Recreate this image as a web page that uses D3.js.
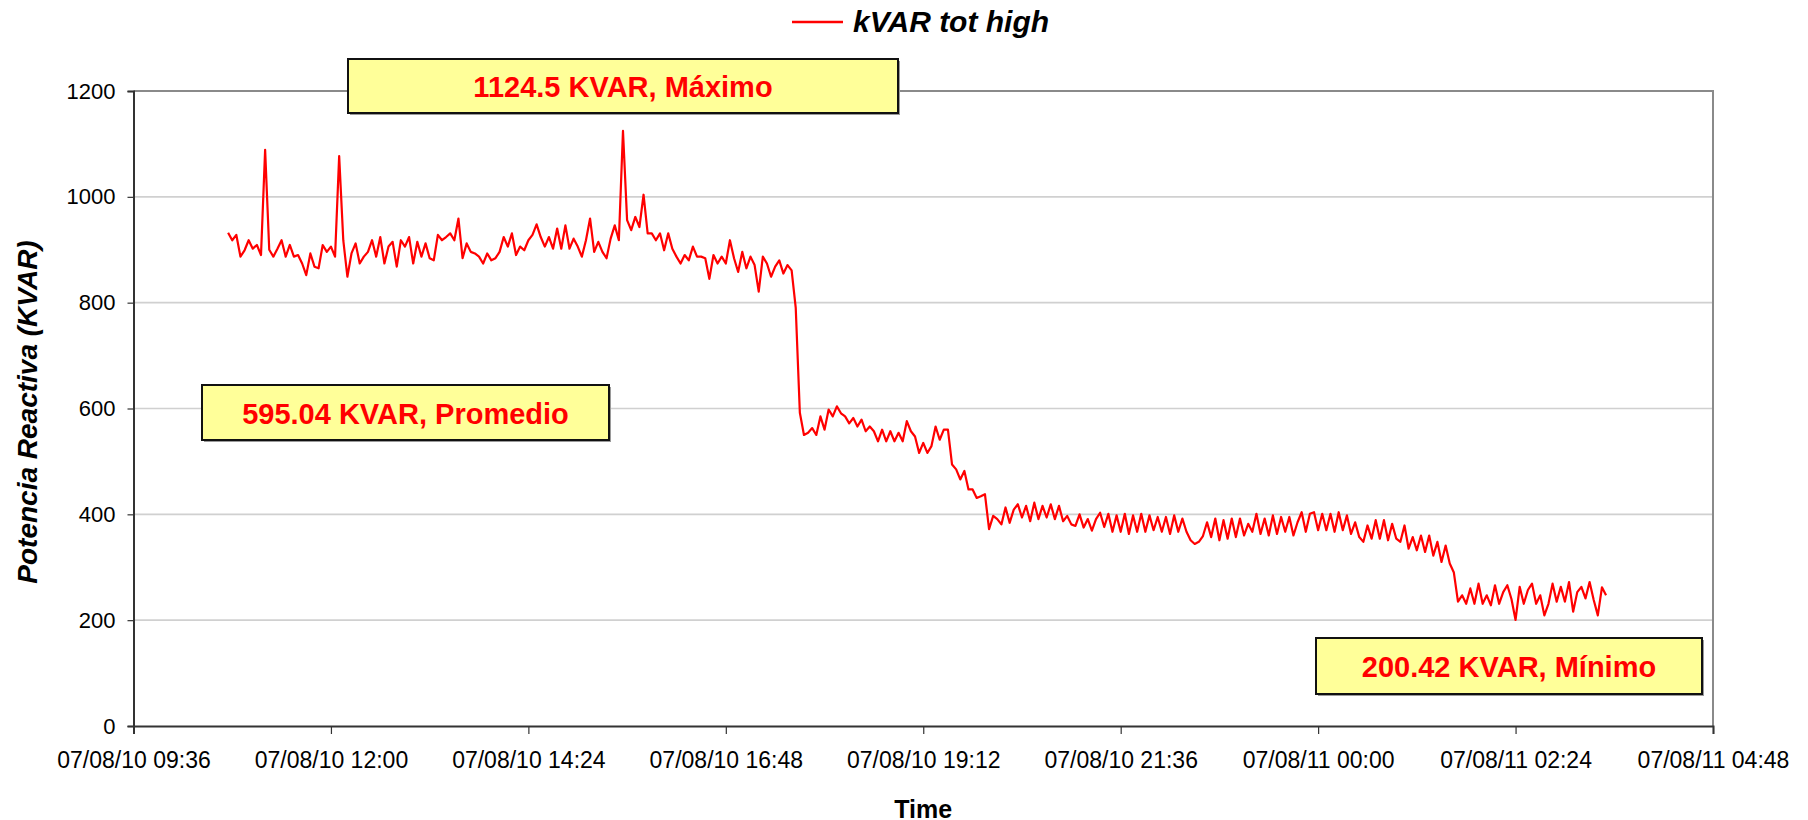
<!DOCTYPE html>
<html>
<head>
<meta charset="utf-8">
<script src="https://d3js.org/d3.v7.min.js"></script>
<title>kVAR tot high</title>
<style>
  body { margin: 0; background: #fff; }
  svg text { font-family: "Liberation Sans", Arial, sans-serif; fill: #000; }
  .tick text { font-size: 22px; }
  .x-axis .tick text { font-size: 23px; }
  .axis-title { font-weight: bold; }
  .note text { font-weight: bold; font-size: 29px; fill: #ff0000; }
</style>
</head>
<body>
<svg width="1808" height="820"></svg>
<script>
// series: one reading every 3 minutes, first one at 10:45
const seriesName = 'kVAR tot high';
const startTime = '07/08/10 10:45';
const stepMinutes = 3;
const kvar = [
  932, 918, 928, 887, 899, 918, 902, 909, 890, 1089,
  900, 887, 902, 918, 887, 909, 887, 890, 874, 852,
  893, 868, 865, 909, 896, 906, 887, 1077, 918, 849,
  893, 912, 874, 887, 896, 918, 887, 924, 874, 906,
  915, 868, 918, 906, 924, 874, 915, 887, 912, 884,
  880, 928, 918, 924, 931, 918, 959, 884, 912, 896,
  893, 887, 874, 893, 880, 884, 896, 924, 906, 931,
  890, 906, 899, 918, 928, 948, 924, 906, 924, 902,
  940, 902, 946, 902, 921, 906, 887, 918, 959, 896,
  915, 896, 884, 921, 946, 918, 1124.5, 956, 937, 962,
  943, 1004, 931, 931, 918, 931, 899, 931, 902, 887,
  874, 890, 880, 906, 887, 887, 884, 845, 890, 874,
  887, 874, 918, 884, 858, 896, 865, 887, 871, 821,
  887, 874, 849, 868, 880, 855, 871, 861, 790, 592,
  550, 554, 563, 550, 585, 560, 598, 585, 604, 591,
  585, 572, 582, 566, 579, 557, 566, 557, 538, 560,
  538, 557, 538, 554, 538, 576, 557, 547, 516, 535,
  516, 529, 566, 541, 560, 560, 494, 485, 466, 482,
  447, 447, 431, 434, 438, 372, 397, 391, 381, 413,
  384, 409, 419, 394, 416, 387, 422, 391, 416, 394,
  419, 391, 416, 387, 397, 381, 378, 400, 375, 391,
  369, 391, 403, 376, 401, 367, 398, 367, 401, 363,
  398, 367, 401, 367, 398, 370, 395, 367, 395, 363,
  398, 367, 392, 367, 351, 344, 348, 359, 385, 357,
  392, 351, 389, 354, 392, 357, 392, 360, 382, 367,
  401, 363, 392, 360, 398, 363, 395, 367, 395, 360,
  385, 404, 367, 401, 404, 370, 401, 370, 401, 367,
  404, 370, 398, 363, 385, 357, 348, 379, 354, 389,
  354, 389, 351, 382, 354, 348, 379, 335, 357, 332,
  360, 329, 360, 322, 348, 310, 341, 307, 290, 235,
  247, 231, 260, 231, 269, 231, 247, 228, 266, 231,
  253, 266, 240, 200.42, 263, 231, 257, 269, 231, 247,
  209, 231, 269, 235, 263, 235, 272, 216, 253, 263,
  241, 272, 238, 209, 262, 247
];

const xTickLabels = [
  '07/08/10 09:36', '07/08/10 12:00', '07/08/10 14:24', '07/08/10 16:48',
  '07/08/10 19:12', '07/08/10 21:36', '07/08/11 00:00', '07/08/11 02:24',
  '07/08/11 04:48'
];
const yTicks = [0, 200, 400, 600, 800, 1000, 1200];
const noteTexts = ['1124.5 KVAR, Máximo', '595.04 KVAR, Promedio', '200.42 KVAR, Mínimo'];

const svg = d3.select('svg');
const margin = { left: 133.5, right: 95, top: 91, bottom: 94 };
const width = +svg.attr('width');
const height = +svg.attr('height');
const innerWidth = width - margin.left - margin.right;
const innerHeight = height - margin.top - margin.bottom;

const parseTime = d3.timeParse('%y/%m/%d %H:%M');
const formatTime = d3.timeFormat('%y/%m/%d %H:%M');
const t0 = parseTime(startTime);
const data = kvar.map((v, i) => ({ time: d3.timeMinute.offset(t0, i * stepMinutes), value: v }));
const tickDates = xTickLabels.map(parseTime);

const xScale = d3.scaleTime()
  .domain([tickDates[0], tickDates[tickDates.length - 1]])
  .range([0, innerWidth]);
const yScale = d3.scaleLinear()
  .domain([0, 1200])
  .range([innerHeight, 0]);

const g = svg.append('g')
  .attr('transform', `translate(${margin.left},${margin.top})`);

// grid
g.append('g')
  .selectAll('line').data(yTicks.filter(d => d > 0 && d < 1200))
  .enter().append('line')
    .attr('x1', 0).attr('x2', innerWidth)
    .attr('y1', d => yScale(d)).attr('y2', d => yScale(d))
    .attr('stroke', '#d0d0d0')
    .attr('stroke-width', 1.6);

// plot frame top and right
g.append('path')
  .attr('d', `M0,0H${innerWidth}V${innerHeight}`)
  .attr('fill', 'none')
  .attr('stroke', '#8a8a8a')
  .attr('stroke-width', 2);

const yAxis = d3.axisLeft(yScale)
  .tickValues(yTicks)
  .tickSize(6)
  .tickPadding(12)
  .tickFormat(d3.format('d'));
const xAxis = d3.axisBottom(xScale)
  .tickValues(tickDates)
  .tickSize(8)
  .tickPadding(18)
  .tickFormat(formatTime);

const yAxisG = g.append('g').attr('class', 'y-axis').call(yAxis);
const xAxisG = g.append('g').attr('class', 'x-axis')
  .attr('transform', `translate(0,${innerHeight})`)
  .call(xAxis);
[yAxisG, xAxisG].forEach(a => {
  a.select('.domain').attr('stroke', '#333').attr('stroke-width', 2);
  a.selectAll('.tick line').attr('stroke', '#333').attr('stroke-width', 1.2);
  a.selectAll('.tick text').attr('fill', '#000');
});

// series line
const line = d3.line()
  .x(d => xScale(d.time))
  .y(d => yScale(d.value));
g.append('path')
  .datum(data)
  .attr('d', line)
  .attr('fill', 'none')
  .attr('stroke', '#ff0000')
  .attr('stroke-width', 2.2)
  .attr('stroke-linejoin', 'round');

// annotation boxes
const noteBoxes = [
  { x: 348, y: 59, w: 550, h: 54 },
  { x: 202, y: 385, w: 407, h: 55 },
  { x: 1316, y: 638, w: 386, h: 56 }
];
const notes = svg.selectAll('g.note').data(noteTexts)
  .enter().append('g').attr('class', 'note')
    .attr('transform', (d, i) => `translate(${noteBoxes[i].x},${noteBoxes[i].y})`);
notes.append('rect')
  .attr('x', 2).attr('y', 2)
  .attr('width', (d, i) => noteBoxes[i].w).attr('height', (d, i) => noteBoxes[i].h)
  .attr('fill', '#9a9a9a');
notes.append('rect')
  .attr('width', (d, i) => noteBoxes[i].w).attr('height', (d, i) => noteBoxes[i].h)
  .attr('fill', '#ffff99')
  .attr('stroke', '#111')
  .attr('stroke-width', 2);
notes.append('text')
  .attr('x', (d, i) => noteBoxes[i].w / 2)
  .attr('y', (d, i) => noteBoxes[i].h / 2 + 11)
  .attr('text-anchor', 'middle')
  .text(d => d);

// titles
svg.append('text')
  .attr('class', 'axis-title')
  .attr('transform', 'translate(37,412) rotate(-90)')
  .attr('text-anchor', 'middle')
  .style('font-size', '28px')
  .style('font-style', 'italic')
  .text('Potencia Reactiva (KVAR)');
svg.append('text')
  .attr('class', 'axis-title')
  .attr('x', margin.left + innerWidth / 2)
  .attr('y', 818)
  .attr('text-anchor', 'middle')
  .style('font-size', '25px')
  .text('Time');

// legend
const legend = svg.append('g').attr('transform', 'translate(792,22)');
legend.append('line')
  .attr('x1', 0).attr('x2', 51)
  .attr('stroke', '#ff0000').attr('stroke-width', 2.5);
legend.append('text')
  .attr('x', 61).attr('y', 10)
  .style('font-size', '30px')
  .style('font-weight', 'bold')
  .style('font-style', 'italic')
  .text(seriesName);
</script>
</body>
</html>
